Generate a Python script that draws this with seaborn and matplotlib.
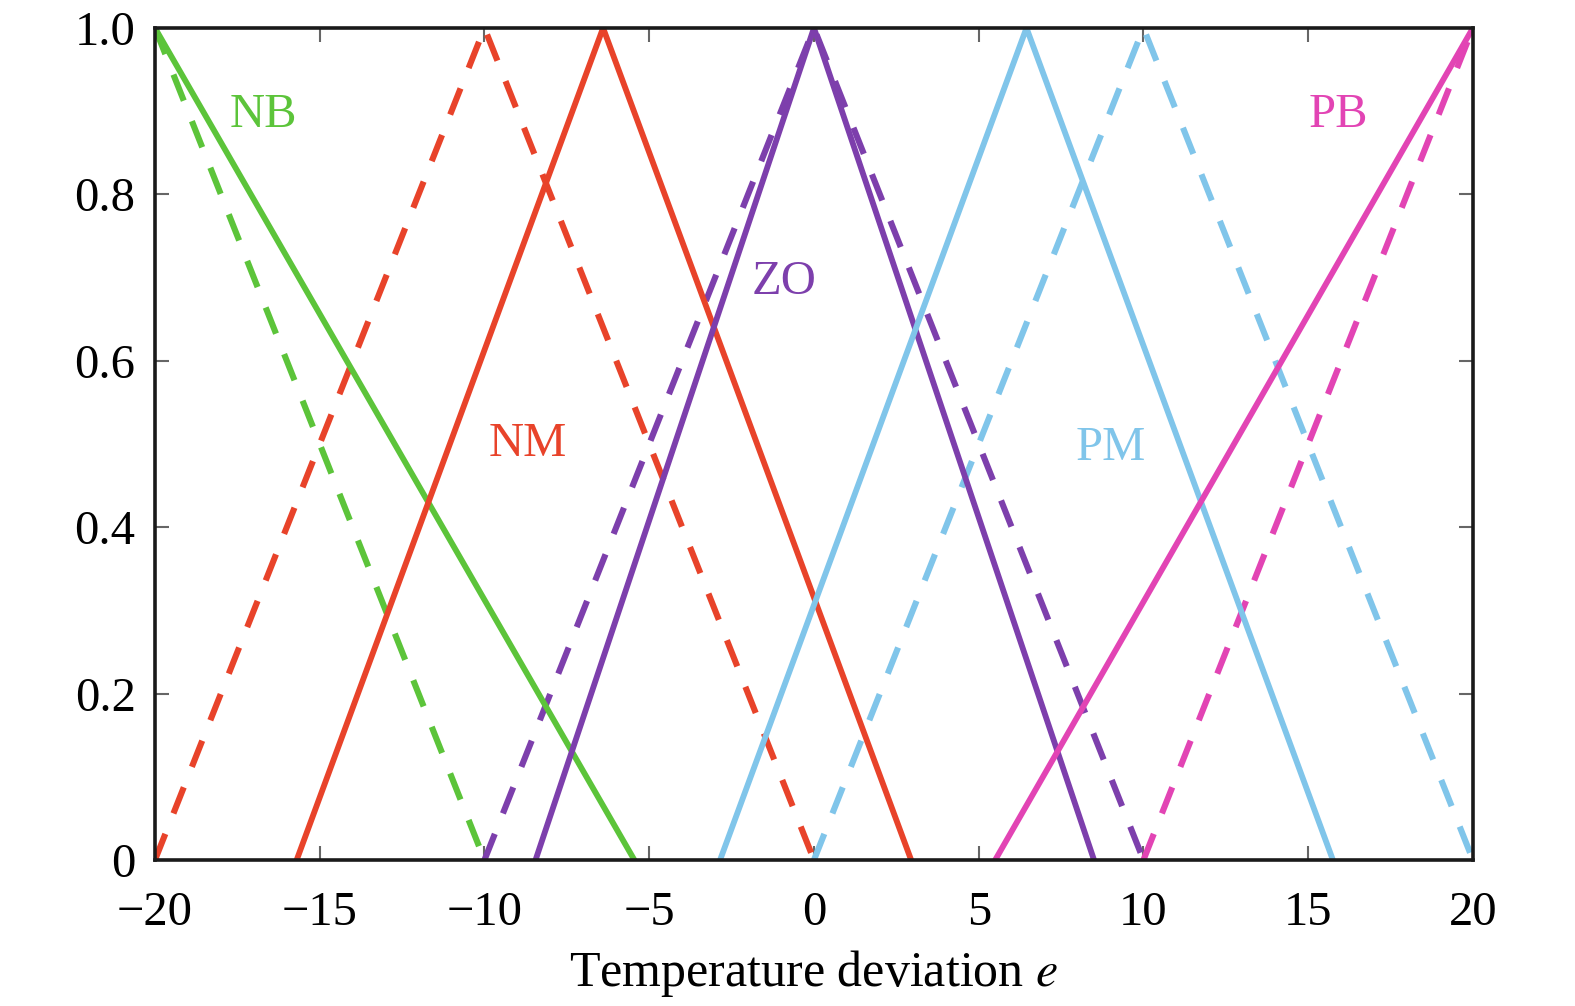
import matplotlib
matplotlib.use('Agg')
import matplotlib.pyplot as plt
import seaborn as sns
import pandas as pd

# membership function breakpoints (x, y) for each fuzzy set
labels = ['NB', 'NM', 'ZO', 'PM', 'PB']
colors = ['#5cc43a', '#e8432a', '#7d3fac', '#80c5ea', '#e244b4']

solid_x = [[-20, -5.45], [-15.7, -6.4, 2.95], [-8.45, 0, 8.5], [-2.85, 6.45, 15.75], [5.5, 20]]
solid_y = [[1, 0], [0, 1, 0], [0, 1, 0], [0, 1, 0], [0, 1]]

dashed_x = [[-20, -10], [-20, -10, 0], [-10, 0, 10], [0, 10, 20], [10, 20]]
dashed_y = [[1, 0], [0, 1, 0], [0, 1, 0], [0, 1, 0], [0, 1]]

label_x = [-16.7, -8.7, -0.9, 9.0, 15.9]
label_y = [0.895, 0.50, 0.695, 0.495, 0.895]

rows = []
for name, xs, ys in zip(labels, solid_x, solid_y):
    for i, (x, y) in enumerate(zip(xs, ys)):
        rows.append({'set': name, 'kind': 'solid', 'order': i, 'e': x, 'mu': y})
for name, xs, ys in zip(labels, dashed_x, dashed_y):
    for i, (x, y) in enumerate(zip(xs, ys)):
        rows.append({'set': name, 'kind': 'dashed', 'order': i, 'e': x, 'mu': y})
df = pd.DataFrame(rows)

sns.set_style('ticks')
plt.rcParams['font.family'] = ['Liberation Serif', 'DejaVu Serif']
plt.rcParams['mathtext.fontset'] = 'stix'
plt.rcParams['text.color'] = 'black'
plt.rcParams['axes.labelcolor'] = 'black'
plt.rcParams['xtick.labelcolor'] = 'black'
plt.rcParams['ytick.labelcolor'] = 'black'

fig = plt.figure(figsize=(15.75, 10.06), dpi=100)
ax = fig.add_axes([0.0984, 0.1451, 0.8368, 0.8271])

palette = dict(zip(labels, colors))
sns.lineplot(data=df[df['kind'] == 'dashed'], x='e', y='mu', hue='set', units='set',
             estimator=None, sort=False, palette=palette, lw=4.4, ax=ax,
             legend=False, dashes=False)
for line in ax.get_lines():
    line.set_dashes([4.6, 3.6])
    line.set_dash_capstyle('butt')
sns.lineplot(data=df[df['kind'] == 'solid'], x='e', y='mu', hue='set', units='set',
             estimator=None, sort=False, palette=palette, lw=4.2, ax=ax, legend=False)

for name, c, tx, ty in zip(labels, colors, label_x, label_y):
    ax.text(tx, ty, name, color=c, fontsize=35, ha='center', va='center')

ax.set_xlim(-20, 20)
ax.set_ylim(0, 1)
ax.set_xticks([-20, -15, -10, -5, 0, 5, 10, 15, 20])
ax.set_xticklabels(['\u221220', '\u221215', '\u221210', '\u22125', '0', '5', '10', '15', '20'])
ax.set_yticks([0, 0.2, 0.4, 0.6, 0.8, 1.0])
ax.set_yticklabels(['0', '0.2', '0.4', '0.6', '0.8', '1.0'])
ax.tick_params(direction='in', length=10, width=1.5, labelsize=35, top=True, right=True,
               color='#666666', labelcolor='black')
ax.tick_params(axis='x', pad=22)
ax.tick_params(axis='y', pad=14)
ax.set_xlabel('Temperature deviation $e$', fontsize=36, labelpad=10, color='black')
ax.set_ylabel('')
for sp in ax.spines.values():
    sp.set_linewidth(2.6)
    sp.set_color('#1a1a1a')

fig.savefig('out.png', dpi=100)
